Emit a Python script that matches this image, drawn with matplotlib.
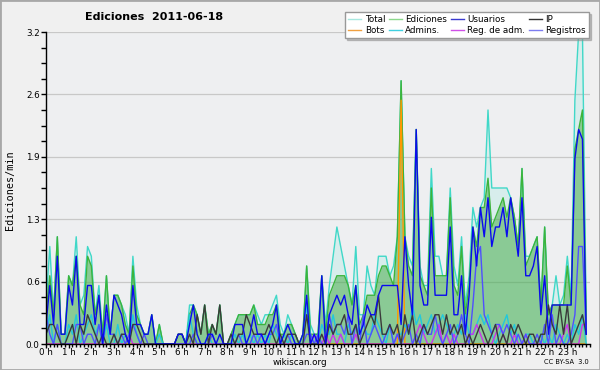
import numpy as np
import matplotlib
matplotlib.use('Agg')
import matplotlib.pyplot as plt
from matplotlib.ticker import MultipleLocator
from matplotlib.lines import Line2D
from matplotlib.patches import Rectangle

# edits per minute, 10-minute buckets, 2011-06-18 (2 hours per row)
total = [
    0.4, 1.0, 0.3, 1.1, 0.1, 0.1,  0.7, 0.6, 1.1, 0.4, 0.5, 1.0,
    0.9, 0.3, 0.6, 0.1, 0.7, 0.1,  0.5, 0.5, 0.4, 0.3, 0.1, 0.9,
    0.4, 0.2, 0.1, 0.1, 0.3, 0.0,  0.2, 0.0, 0.0, 0.0, 0.0, 0.1,
    0.1, 0.0, 0.4, 0.4, 0.3, 0.1,  0.4, 0.1, 0.2, 0.1, 0.4, 0.0,
    0.0, 0.1, 0.2, 0.3, 0.3, 0.3,  0.3, 0.4, 0.3, 0.2, 0.3, 0.3,
    0.4, 0.5, 0.2, 0.1, 0.3, 0.2,  0.1, 0.0, 0.1, 0.8, 0.2, 0.1,
    0.1, 0.7, 0.2, 0.6, 0.9, 1.2,  1.0, 0.8, 0.6, 0.4, 1.0, 0.3,
    0.3, 0.8, 0.6, 0.5, 0.9, 0.9,  0.9, 0.7, 0.8, 1.1, 2.7, 1.1,
    0.9, 0.8, 2.2, 0.8, 0.6, 0.6,  1.8, 0.9, 0.9, 0.7, 0.7, 1.6,
    0.8, 0.6, 1.1, 0.4, 0.7, 1.4,  1.2, 1.4, 1.5, 2.4, 1.6, 1.6,
    1.6, 1.6, 1.6, 1.5, 1.3, 1.0,  1.8, 0.9, 0.9, 1.0, 1.1, 0.4,
    1.2, 0.3, 0.4, 0.7, 0.4, 0.5,  0.9, 0.5, 2.5, 3.2, 3.2, 0.3,
]
ediciones = [
    0.3, 0.7, 0.3, 1.1, 0.1, 0.1,  0.7, 0.6, 0.9, 0.4, 0.3, 0.9,
    0.8, 0.3, 0.5, 0.1, 0.7, 0.1,  0.5, 0.5, 0.4, 0.2, 0.1, 0.8,
    0.3, 0.2, 0.1, 0.1, 0.3, 0.0,  0.2, 0.0, 0.0, 0.0, 0.0, 0.1,
    0.1, 0.0, 0.3, 0.4, 0.3, 0.1,  0.4, 0.1, 0.2, 0.1, 0.4, 0.0,
    0.0, 0.1, 0.2, 0.3, 0.3, 0.3,  0.3, 0.4, 0.2, 0.2, 0.2, 0.3,
    0.3, 0.4, 0.1, 0.1, 0.2, 0.2,  0.1, 0.0, 0.1, 0.8, 0.1, 0.1,
    0.1, 0.7, 0.1, 0.5, 0.6, 0.7,  0.7, 0.7, 0.6, 0.4, 0.6, 0.2,
    0.3, 0.5, 0.5, 0.5, 0.7, 0.8,  0.8, 0.7, 0.6, 1.1, 2.7, 1.1,
    0.8, 0.7, 2.2, 0.7, 0.6, 0.5,  1.6, 0.7, 0.7, 0.7, 0.7, 1.5,
    0.6, 0.5, 1.0, 0.3, 0.6, 1.2,  1.0, 1.4, 1.4, 1.7, 1.2, 1.3,
    1.4, 1.5, 1.3, 1.5, 1.3, 1.0,  1.8, 0.8, 0.9, 1.0, 1.1, 0.4,
    1.2, 0.3, 0.4, 0.4, 0.4, 0.4,  0.8, 0.4, 2.0, 2.2, 2.4, 0.2,
]
usuarios = [
    0.2, 0.6, 0.2, 0.9, 0.1, 0.1,  0.6, 0.4, 0.9, 0.2, 0.2, 0.6,
    0.6, 0.2, 0.5, 0.0, 0.4, 0.1,  0.5, 0.4, 0.3, 0.1, 0.0, 0.6,
    0.2, 0.2, 0.1, 0.1, 0.3, 0.0,  0.0, 0.0, 0.0, 0.0, 0.0, 0.1,
    0.1, 0.0, 0.2, 0.4, 0.1, 0.0,  0.0, 0.1, 0.1, 0.0, 0.1, 0.0,
    0.0, 0.0, 0.2, 0.2, 0.2, 0.0,  0.1, 0.3, 0.1, 0.1, 0.0, 0.1,
    0.2, 0.4, 0.0, 0.1, 0.2, 0.1,  0.0, 0.0, 0.1, 0.5, 0.0, 0.1,
    0.0, 0.7, 0.0, 0.3, 0.4, 0.5,  0.4, 0.5, 0.3, 0.2, 0.6, 0.1,
    0.2, 0.4, 0.3, 0.3, 0.5, 0.6,  0.6, 0.6, 0.6, 0.6, 0.2, 1.1,
    0.6, 0.3, 2.2, 0.6, 0.4, 0.4,  1.3, 0.5, 0.5, 0.5, 0.5, 1.2,
    0.3, 0.3, 0.7, 0.1, 0.5, 1.2,  0.8, 1.4, 1.1, 1.5, 1.0, 1.2,
    1.2, 1.4, 1.1, 1.5, 1.2, 0.9,  1.5, 0.7, 0.7, 0.8, 1.0, 0.3,
    0.7, 0.1, 0.4, 0.4, 0.4, 0.4,  0.4, 0.4, 1.9, 2.2, 2.1, 0.1,
]
ip = [
    0.1, 0.2, 0.2, 0.1, 0.0, 0.0,  0.1, 0.2, 0.0, 0.2, 0.1, 0.3,
    0.2, 0.1, 0.0, 0.1, 0.0, 0.0,  0.1, 0.0, 0.1, 0.1, 0.0, 0.2,
    0.2, 0.1, 0.0, 0.0, 0.0, 0.0,  0.0, 0.0, 0.0, 0.0, 0.0, 0.1,
    0.1, 0.0, 0.1, 0.0, 0.3, 0.1,  0.4, 0.0, 0.2, 0.1, 0.4, 0.0,
    0.0, 0.1, 0.0, 0.1, 0.1, 0.3,  0.2, 0.1, 0.1, 0.1, 0.1, 0.2,
    0.1, 0.0, 0.1, 0.0, 0.1, 0.1,  0.1, 0.0, 0.0, 0.3, 0.0, 0.0,
    0.0, 0.1, 0.0, 0.2, 0.1, 0.2,  0.2, 0.3, 0.1, 0.1, 0.2, 0.0,
    0.1, 0.2, 0.3, 0.2, 0.5, 0.1,  0.1, 0.2, 0.1, 0.2, 0.0, 0.3,
    0.1, 0.3, 0.0, 0.1, 0.2, 0.1,  0.2, 0.3, 0.3, 0.1, 0.3, 0.1,
    0.2, 0.1, 0.2, 0.0, 0.1, 0.0,  0.1, 0.2, 0.1, 0.0, 0.1, 0.2,
    0.0, 0.1, 0.0, 0.2, 0.1, 0.2,  0.1, 0.0, 0.1, 0.1, 0.0, 0.1,
    0.1, 0.4, 0.2, 0.1, 0.4, 0.1,  0.4, 0.0, 0.1, 0.2, 0.3, 0.1,
]
bots = [
    0.0, 0.0, 0.0, 0.0, 0.0, 0.0,  0.0, 0.0, 0.0, 0.0, 0.0, 0.0,
    0.0, 0.0, 0.0, 0.0, 0.0, 0.0,  0.0, 0.0, 0.0, 0.0, 0.0, 0.0,
    0.0, 0.0, 0.0, 0.0, 0.0, 0.0,  0.0, 0.0, 0.0, 0.0, 0.0, 0.0,
    0.0, 0.0, 0.0, 0.0, 0.0, 0.0,  0.0, 0.0, 0.0, 0.0, 0.0, 0.0,
    0.0, 0.0, 0.0, 0.0, 0.0, 0.0,  0.0, 0.0, 0.0, 0.0, 0.0, 0.0,
    0.0, 0.0, 0.0, 0.0, 0.0, 0.0,  0.0, 0.0, 0.0, 0.0, 0.0, 0.0,
    0.0, 0.0, 0.0, 0.0, 0.0, 0.0,  0.0, 0.0, 0.0, 0.0, 0.0, 0.0,
    0.0, 0.0, 0.0, 0.0, 0.0, 0.0,  0.0, 0.0, 0.0, 0.0, 2.5, 0.0,
    0.0, 0.0, 0.0, 0.0, 0.0, 0.0,  0.0, 0.0, 0.0, 0.0, 0.0, 0.0,
    0.0, 0.0, 0.0, 0.0, 0.0, 0.0,  0.0, 0.0, 0.0, 0.0, 0.0, 0.0,
    0.0, 0.0, 0.0, 0.0, 0.0, 0.0,  0.0, 0.0, 0.0, 0.0, 0.0, 0.0,
    0.0, 0.0, 0.0, 0.0, 0.0, 0.0,  0.0, 0.0, 0.0, 0.0, 0.0, 0.0,
]
admins = [
    0.1, 0.3, 0.0, 0.2, 0.0, 0.0,  0.2, 0.1, 0.3, 0.0, 0.1, 0.2,
    0.3, 0.1, 0.2, 0.0, 0.2, 0.0,  0.0, 0.2, 0.0, 0.1, 0.0, 0.3,
    0.1, 0.0, 0.0, 0.0, 0.0, 0.0,  0.1, 0.0, 0.0, 0.0, 0.0, 0.0,
    0.0, 0.0, 0.3, 0.1, 0.0, 0.0,  0.0, 0.1, 0.0, 0.0, 0.0, 0.0,
    0.0, 0.0, 0.1, 0.0, 0.1, 0.0,  0.1, 0.0, 0.1, 0.0, 0.1, 0.0,
    0.2, 0.1, 0.0, 0.1, 0.0, 0.1,  0.0, 0.0, 0.0, 0.4, 0.1, 0.0,
    0.0, 0.2, 0.1, 0.1, 0.3, 0.1,  0.1, 0.0, 0.2, 0.1, 0.2, 0.1,
    0.2, 0.1, 0.1, 0.3, 0.2, 0.1,  0.0, 0.2, 0.0, 0.1, 0.1, 0.2,
    0.1, 0.4, 0.2, 0.3, 0.1, 0.2,  0.3, 0.1, 0.2, 0.3, 0.2, 0.1,
    0.1, 0.2, 0.1, 0.3, 0.1, 0.1,  0.2, 0.3, 0.2, 0.3, 0.1, 0.0,
    0.1, 0.2, 0.3, 0.1, 0.2, 0.0,  0.0, 0.1, 0.1, 0.0, 0.0, 0.1,
    0.0, 0.1, 0.0, 0.2, 0.1, 0.0,  0.1, 0.0, 0.2, 0.1, 0.3, 0.0,
]
reg_adm = [
    0.0, 0.0, 0.0, 0.0, 0.0, 0.0,  0.0, 0.0, 0.0, 0.0, 0.0, 0.0,
    0.0, 0.0, 0.0, 0.0, 0.0, 0.0,  0.0, 0.0, 0.0, 0.0, 0.1, 0.0,
    0.0, 0.0, 0.0, 0.0, 0.0, 0.0,  0.0, 0.0, 0.0, 0.0, 0.0, 0.0,
    0.0, 0.0, 0.0, 0.0, 0.0, 0.0,  0.0, 0.0, 0.0, 0.0, 0.0, 0.0,
    0.0, 0.0, 0.0, 0.0, 0.0, 0.0,  0.0, 0.0, 0.0, 0.0, 0.0, 0.0,
    0.0, 0.0, 0.0, 0.0, 0.0, 0.0,  0.0, 0.0, 0.0, 0.0, 0.0, 0.1,
    0.0, 0.0, 0.1, 0.0, 0.1, 0.0,  0.1, 0.0, 0.0, 0.0, 0.1, 0.0,
    0.0, 0.0, 0.0, 0.0, 0.0, 0.0,  0.0, 0.0, 0.0, 0.1, 0.0, 0.0,
    0.0, 0.0, 0.1, 0.2, 0.1, 0.0,  0.0, 0.1, 0.2, 0.0, 0.1, 0.0,
    0.1, 0.0, 0.0, 0.0, 0.1, 0.1,  0.2, 0.1, 0.0, 0.0, 0.0, 0.1,
    0.2, 0.1, 0.0, 0.0, 0.1, 0.0,  0.0, 0.1, 0.0, 0.0, 0.0, 0.0,
    0.0, 0.0, 0.0, 0.0, 0.0, 0.1,  0.2, 0.0, 0.0, 0.0, 0.2, 0.2,
]
registros = [
    0.3, 0.1, 0.0, 0.2, 0.0, 0.0,  0.0, 0.0, 0.2, 0.2, 0.0, 0.1,
    0.1, 0.0, 0.2, 0.0, 0.3, 0.1,  0.1, 0.0, 0.1, 0.0, 0.1, 0.2,
    0.1, 0.0, 0.1, 0.0, 0.0, 0.0,  0.0, 0.0, 0.0, 0.0, 0.0, 0.0,
    0.0, 0.0, 0.0, 0.1, 0.0, 0.0,  0.0, 0.0, 0.1, 0.0, 0.0, 0.0,
    0.0, 0.0, 0.0, 0.1, 0.0, 0.0,  0.0, 0.1, 0.0, 0.1, 0.0, 0.1,
    0.1, 0.2, 0.0, 0.0, 0.1, 0.0,  0.0, 0.0, 0.0, 0.1, 0.1, 0.0,
    0.1, 0.0, 0.0, 0.3, 0.1, 0.2,  0.2, 0.1, 0.3, 0.0, 0.2, 0.0,
    0.3, 0.0, 0.1, 0.2, 0.1, 0.0,  0.1, 0.2, 0.0, 0.1, 0.0, 0.1,
    0.2, 0.0, 0.1, 0.0, 0.2, 0.1,  0.1, 0.3, 0.1, 0.0, 0.1, 0.2,
    0.0, 0.1, 0.3, 0.1, 0.0, 0.4,  0.9, 1.0, 0.3, 0.2, 0.1, 0.2,
    0.2, 0.1, 0.2, 0.1, 0.0, 0.1,  0.0, 0.1, 0.0, 0.0, 0.1, 0.0,
    0.2, 0.0, 0.3, 0.0, 0.1, 0.0,  0.0, 0.1, 0.3, 1.0, 1.0, 0.1,
]

hours = np.arange(len(total)) / 6.0
hour_labels = [f"{h} h" for h in range(24)]
yticks = [0.0, 0.64, 1.28, 1.92, 2.56, 3.2]

fig = plt.figure(figsize=(6, 3.7), dpi=100, facecolor='#F0F0F0')
ax = fig.add_axes([46/600, 26/370, 544/600, 312/370])
ax.set_facecolor('#EEEFF1')

ax.fill_between(hours, total, color='#40E0D0', alpha=0.13, lw=0)
ax.plot(hours, total, color='#40D8C8', lw=1)
ax.fill_between(hours, ediciones, color='#3FA83F', alpha=0.5, lw=0)
ax.plot(hours, ediciones, color='#3CB43C', lw=1)
ax.plot(hours, bots, color='#FF9900', lw=1)
ax.plot(hours, admins, color='#22C8DC', lw=1)
ax.plot(hours, reg_adm, color='#CC33EE', lw=1)
ax.plot(hours, registros, color='#4F4FFF', lw=1)
ax.plot(hours, ip, color='#3A3A3A', lw=1)
ax.plot(hours, usuarios, color='#0A0AEE', lw=1)

ax.set_xlim(0, 24)
ax.set_ylim(0, 3.2)
ax.set_xticks(range(24))
ax.set_xticklabels(hour_labels)
ax.xaxis.set_minor_locator(MultipleLocator(1/6))
ax.set_yticks(yticks)
ax.set_yticklabels([f"{v:.1f}" for v in yticks])
ax.yaxis.set_minor_locator(MultipleLocator(0.16))
ax.tick_params(which='major', direction='out', length=2.6, width=1, labelsize=6.3, pad=0.5)
ax.tick_params(which='minor', direction='out', length=2.2, width=1)
ax.tick_params(axis='y', which='major', length=3.5, pad=1)
ax.tick_params(axis='y', which='minor', length=3.5)
ax.grid(axis='y', color='#C8C8C8', lw=0.9)
ax.set_axisbelow(True)
for s in ['top', 'right']:
    ax.spines[s].set_visible(False)
for s in ['left', 'bottom']:
    ax.spines[s].set_linewidth(1)

handles = [
    Line2D([], [], color='#A8E8E0', lw=1, label='Total'),
    Line2D([], [], color='#F0A040', lw=1, label='Bots'),
    Line2D([], [], color='#8CD88C', lw=1, label='Ediciones'),
    Line2D([], [], color='#40D0E0', lw=1, label='Admins.'),
    Line2D([], [], color='#3A3AD0', lw=1, label='Usuarios'),
    Line2D([], [], color='#D050E8', lw=1, label='Reg. de adm.'),
    Line2D([], [], color='#333333', lw=1, label='IP'),
    Line2D([], [], color='#7C7CF0', lw=1, label='Registros'),
]
fig.legend(handles=handles, ncol=4, loc='upper right',
           bbox_to_anchor=(589/600, 1 - 12/370), fontsize=6.3,
           frameon=True, fancybox=False, facecolor='white',
           shadow={'ox': 1.5, 'oy': -1.5, 'shade': 0.45},
           edgecolor='#999999', borderpad=0.35, labelspacing=0.25,
           columnspacing=0.4, handlelength=1.5, handletextpad=0.4,
           borderaxespad=0)

fig.text(154/600, 1 - 17/370, 'Ediciones  2011-06-18', ha='center', va='center',
         fontsize=8.0, fontweight='bold')
fig.text(10/600, 1 - 190/370, 'Ediciones/min', rotation=90, ha='center', va='center',
         family='DejaVu Sans Mono', fontsize=7.3)
fig.text(300/600, 1 - 362.5/370, 'wikiscan.org', ha='center', va='center', fontsize=6.3)
fig.text(589/600, 1 - 362/370, 'CC BY-SA  3.0', ha='right', va='center', fontsize=4.8)

fig.patches.append(Rectangle((0, 0), 1, 1, transform=fig.transFigure, fill=False,
                             edgecolor='#A8A8A8', lw=2))

fig.savefig('out.png', dpi=100, facecolor=fig.get_facecolor())
